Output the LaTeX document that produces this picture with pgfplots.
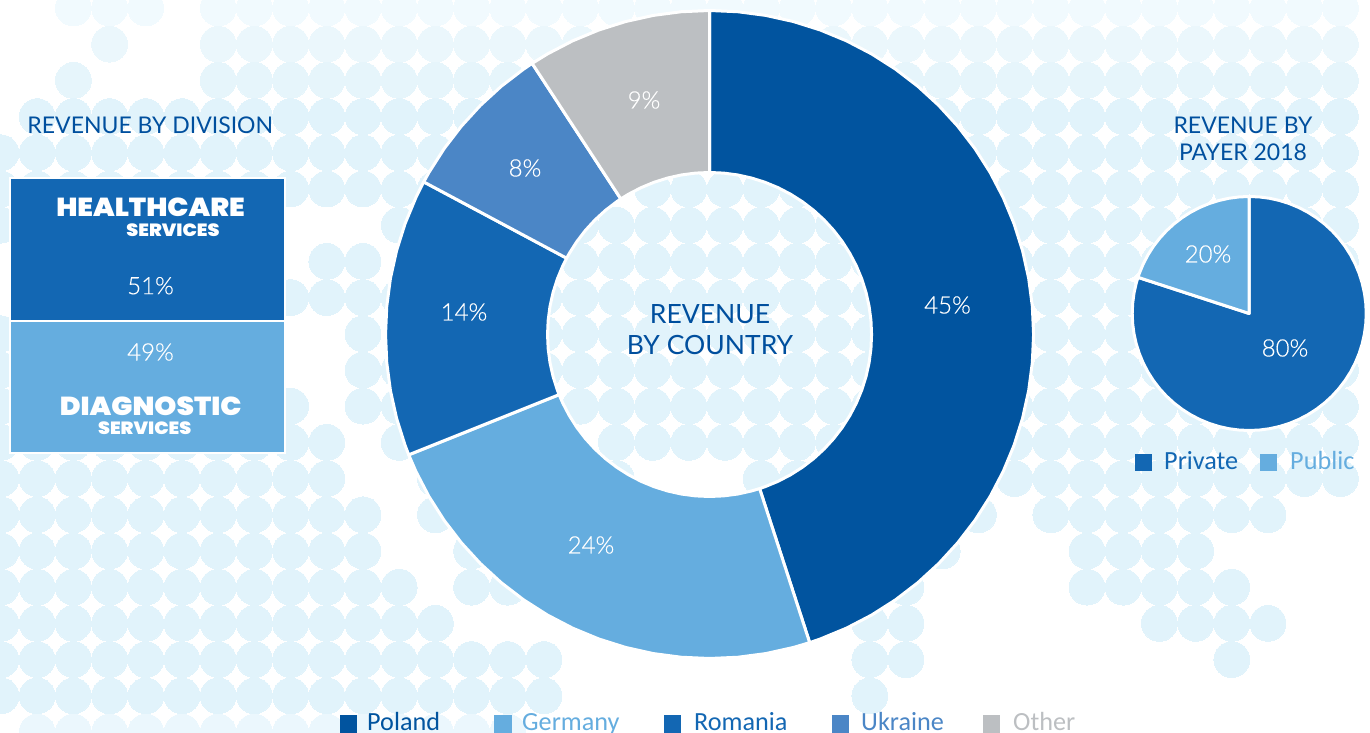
\documentclass[border=0pt]{standalone}
\usepackage{pgfplots}
\pgfplotsset{compat=1.18}
\usepackage{fontspec}
\setmainfont{Lato}
\newfontfamily\legfont{Carlito}
\newfontfamily\heavy{Poppins}[UprightFont=* Black,FakeStretch=1.08]
\newfontfamily\thin{Lato}[UprightFont=* Light,FakeBold=0.35]
\definecolor{cPoland}{HTML}{01549F}
\definecolor{cGermany}{HTML}{65ADDF}
\definecolor{cRomania}{HTML}{1367B3}
\definecolor{cUkraine}{HTML}{4B86C6}
\definecolor{cOther}{HTML}{BCBFC2}
\definecolor{cTitle}{HTML}{004F9E}
\definecolor{dot0}{HTML}{F1FAFE}
\definecolor{dot1}{HTML}{EBF7FC}
\definecolor{dot2}{HTML}{E6F5FB}
\definecolor{dot}{HTML}{E1F3FB}
\definecolor{dot20}{HTML}{EBF7FD}
\pgfplotsset{canvas/.style={scale only axis,width=1370pt,height=733pt,hide axis,at={(0,0)},anchor=south west},
 dots/.style={only marks,color=#1,mark=*,mark size=17.9pt,mark options={draw=#1,line width=0pt,fill=#1}},
 wedge/.style={data cs=polar,fill=#1,draw=white,line width=3pt,line join=round},
 sq/.style={fill=#1,draw=none}}
\newcommand{\fs}[1]{\fontsize{#1}{#1}\selectfont}
\begin{document}
\begin{tikzpicture}
% background dot map: (column,row) of a 36.2 px grid
\begin{axis}[canvas,xmin=-0.0276,xmax=37.818,ymin=-0.221,ymax=20.028,y dir=reverse]
\addplot[dots=dot0] coordinates {(2,0)(3,0)(4,0)(6,0)(7,0)(8,0)(9,0)(10,0)(11,0)(12,0)(13,0)(14,0)(15,0)(16,0)(17,0)(18,0)(19,0)(20,0)(21,0)(22,0)(23,0)(24,0)(25,0)(26,0)(27,0)(28,0)(29,0)(30,0)(31,0)(32,0)(33,0)(34,0)(35,0)(36,0)(37,0)(38,0)};
\addplot[dots=dot1] coordinates {(3,1)(6,1)(7,1)(8,1)(9,1)(10,1)(11,1)(12,1)(13,1)(14,1)(15,1)(16,1)(17,1)(18,1)(19,1)(20,1)(21,1)(22,1)(23,1)(24,1)(25,1)(26,1)(27,1)(28,1)(29,1)(30,1)(31,1)(32,1)(33,1)(34,1)(35,1)(36,1)(37,1)};
\addplot[dots=dot2] coordinates {(2,2)(6,2)(7,2)(8,2)(9,2)(10,2)(11,2)(12,2)(13,2)(14,2)(15,2)(16,2)(17,2)(18,2)(24,2)(25,2)(26,2)(27,2)(28,2)(29,2)(30,2)(31,2)(32,2)(33,2)(34,2)(35,2)(36,2)(37,2)};
\addplot[dots=dot] coordinates {(1,3)(2,3)(3,3)(4,3)(5,3)(6,3)(7,3)(8,3)(9,3)(10,3)(11,3)(12,3)(13,3)(14,3)(15,3)(16,3)(24,3)(25,3)(26,3)(27,3)(28,3)(29,3)(30,3)(31,3)(32,3)(33,3)(34,3)(35,3)(36,3)(37,3)(38,3)
(0,4)(1,4)(2,4)(3,4)(4,4)(5,4)(6,4)(7,4)(8,4)(9,4)(10,4)(11,4)(12,4)(13,4)(14,4)(26,4)(27,4)(28,4)(29,4)(30,4)(31,4)(32,4)(33,4)(34,4)(35,4)(36,4)(37,4)(38,4)
(0,5)(1,5)(2,5)(3,5)(4,5)(5,5)(6,5)(7,5)(8,5)(9,5)(10,5)(11,5)(12,5)(18,5)(19,5)(20,5)(21,5)(22,5)(26,5)(27,5)(28,5)(29,5)(30,5)(31,5)(32,5)(33,5)(34,5)(35,5)(36,5)(37,5)(38,5)
(0,6)(11,6)(16,6)(17,6)(18,6)(19,6)(20,6)(21,6)(22,6)(23,6)(27,6)(28,6)(29,6)(30,6)(31,6)(32,6)(33,6)(34,6)(35,6)(36,6)(37,6)(38,6)
(9,7)(10,7)(16,7)(17,7)(18,7)(19,7)(20,7)(21,7)(22,7)(23,7)(24,7)(27,7)(28,7)(29,7)(30,7)(31,7)(32,7)(33,7)(34,7)(35,7)(36,7)(37,7)(38,7)
(8,8)(9,8)(10,8)(11,8)(15,8)(16,8)(17,8)(18,8)(19,8)(20,8)(21,8)(22,8)(23,8)(24,8)(28,8)(29,8)(30,8)(31,8)(32,8)(33,8)(34,8)(35,8)(36,8)(37,8)(38,8)
(0,9)(10,9)(15,9)(16,9)(17,9)(18,9)(19,9)(20,9)(21,9)(22,9)(23,9)(24,9)(28,9)(29,9)(30,9)(31,9)(32,9)(33,9)(34,9)(35,9)(36,9)(37,9)
(0,10)(10,10)(11,10)(15,10)(16,10)(17,10)(18,10)(19,10)(20,10)(21,10)(22,10)(23,10)(24,10)(28,10)(29,10)(30,10)(31,10)(32,10)(33,10)(34,10)(35,10)(36,10)(37,10)
(0,11)(8,11)(10,11)(11,11)(16,11)(17,11)(18,11)(19,11)(20,11)(21,11)(22,11)(23,11)(24,11)(28,11)(29,11)(30,11)(31,11)(32,11)(33,11)(34,11)(35,11)(36,11)(37,11)
(0,12)(1,12)(2,12)(3,12)(4,12)(5,12)(6,12)(7,12)(8,12)(9,12)(11,12)(17,12)(18,12)(19,12)(20,12)(21,12)(22,12)(23,12)(28,12)(29,12)(30,12)(31,12)(32,12)(33,12)(34,12)(35,12)(36,12)(37,12)
(0,13)(1,13)(2,13)(3,13)(4,13)(5,13)(6,13)(7,13)(8,13)(9,13)(12,13)(17,13)(21,13)(22,13)(28,13)(29,13)(30,13)(31,13)(32,13)(33,13)(34,13)(35,13)(36,13)(37,13)
(0,14)(1,14)(2,14)(3,14)(4,14)(5,14)(6,14)(7,14)(8,14)(9,14)(10,14)(12,14)(27,14)(29,14)(30,14)(31,14)(32,14)(33,14)(34,14)(35,14)
(0,15)(1,15)(2,15)(3,15)(4,15)(5,15)(6,15)(7,15)(8,15)(9,15)(10,15)(13,15)(26,15)(30,15)(31,15)(32,15)(33,15)(38,15)
(0,16)(1,16)(2,16)(3,16)(4,16)(5,16)(6,16)(7,16)(8,16)(9,16)(10,16)(11,16)(13,16)(14,16)(25,16)(30,16)(31,16)(32,16)(33,16)(34,16)(38,16)
(0,17)(1,17)(2,17)(3,17)(4,17)(5,17)(6,17)(7,17)(8,17)(9,17)(10,17)(11,17)(12,17)(24,17)(25,17)(32,17)(33,17)(34,17)(35,17)
(0,18)(1,18)(2,18)(3,18)(4,18)(5,18)(6,18)(7,18)(8,18)(9,18)(10,18)(11,18)(12,18)(13,18)(14,18)(15,18)(24,18)(25,18)(34,18)
(0,19)(1,19)(2,19)(3,19)(4,19)(5,19)(6,19)(7,19)(8,19)(9,19)(10,19)(11,19)(12,19)(13,19)(14,19)(15,19)(24,19)};
\addplot[dots=dot20] coordinates {(1,20)(2,20)(3,20)(4,20)(5,20)(6,20)(7,20)(8,20)(9,20)(10,20)(11,20)(12,20)(13,20)(14,20)(38,20)};
\end{axis}
% revenue by country: Poland 45, Germany 24, Romania 14, Ukraine 8, Other 9 (angle, radius)
\begin{axis}[canvas,xmin=-709.5,xmax=660.5,ymin=-398.5,ymax=334.5]
\addplot[wedge=cPoland] coordinates {(90,324)(85,324)(80,324)(75,324)(70,324)(65,324)(60,324)(55,324)(50,324)(45,324)(40,324)(35,324)(30,324)(25,324)(20,324)(15,324)(10,324)(5,324)(0,324)(-5,324)(-10,324)(-15,324)(-20,324)(-25,324)(-30,324)(-35,324)(-40,324)(-45,324)(-50,324)(-55,324)(-60,324)(-65,324)(-70,324)(-72,324)
(-72,162)(-70,162)(-65,162)(-60,162)(-55,162)(-50,162)(-45,162)(-40,162)(-35,162)(-30,162)(-25,162)(-20,162)(-15,162)(-10,162)(-5,162)(0,162)(5,162)(10,162)(15,162)(20,162)(25,162)(30,162)(35,162)(40,162)(45,162)(50,162)(55,162)(60,162)(65,162)(70,162)(75,162)(80,162)(85,162)(90,162)} --cycle;
\addplot[wedge=cGermany] coordinates {(-72,324)(-75,324)(-80,324)(-85,324)(-90,324)(-95,324)(-100,324)(-105,324)(-110,324)(-115,324)(-120,324)(-125,324)(-130,324)(-135,324)(-140,324)(-145,324)(-150,324)(-155,324)(-158.2,324)
(-158.2,162)(-155,162)(-150,162)(-145,162)(-140,162)(-135,162)(-130,162)(-125,162)(-120,162)(-115,162)(-110,162)(-105,162)(-100,162)(-95,162)(-90,162)(-85,162)(-80,162)(-75,162)(-72,162)} --cycle;
\addplot[wedge=cRomania] coordinates {(-158.2,324)(-160,324)(-165,324)(-170,324)(-175,324)(-180,324)(-185,324)(-190,324)(-195,324)(-200,324)(-205,324)(-208.1,324)
(-208.1,162)(-205,162)(-200,162)(-195,162)(-190,162)(-185,162)(-180,162)(-175,162)(-170,162)(-165,162)(-160,162)(-158.2,162)} --cycle;
\addplot[wedge=cUkraine] coordinates {(-208.1,324)(-210,324)(-215,324)(-220,324)(-225,324)(-230,324)(-235,324)(-236.8,324)
(-236.8,162)(-235,162)(-230,162)(-225,162)(-220,162)(-215,162)(-210,162)(-208.1,162)} --cycle;
\addplot[wedge=cOther] coordinates {(-236.8,324)(-240,324)(-245,324)(-250,324)(-255,324)(-260,324)(-265,324)(-270,324)
(-270,162)(-265,162)(-260,162)(-255,162)(-250,162)(-245,162)(-240,162)(-236.8,162)} --cycle;
\end{axis}
% revenue by payer: Private 80, Public 20
\begin{axis}[canvas,xmin=-1249.2,xmax=120.8,ymin=-419.5,ymax=313.5]
\addplot[wedge=cRomania] coordinates {(0,0)(90,117)(85,117)(80,117)(75,117)(70,117)(65,117)(60,117)(55,117)(50,117)(45,117)(40,117)(35,117)(30,117)(25,117)(20,117)(15,117)(10,117)(5,117)(0,117)(-5,117)(-10,117)(-15,117)(-20,117)(-25,117)(-30,117)(-35,117)(-40,117)(-45,117)(-50,117)(-55,117)(-60,117)(-65,117)(-70,117)(-75,117)(-80,117)(-85,117)(-90,117)(-95,117)(-100,117)(-105,117)(-110,117)(-115,117)(-120,117)(-125,117)(-130,117)(-135,117)(-140,117)(-145,117)(-150,117)(-155,117)(-160,117)(-165,117)(-170,117)(-175,117)(-180,117)(-185,117)(-190,117)(-195,117)(-198,117)} --cycle;
\addplot[wedge=cGermany] coordinates {(0,0)(162,117)(160,117)(155,117)(150,117)(145,117)(140,117)(135,117)(130,117)(125,117)(120,117)(115,117)(110,117)(105,117)(100,117)(95,117)(90,117)} --cycle;
\end{axis}
% boxes, legends and texts in pixel coordinates
\begin{axis}[canvas,xmin=0,xmax=1370,ymin=0,ymax=733,y dir=reverse]
\addplot[fill=cRomania,draw=white,line width=2.5pt] coordinates {(9.75,177.75)(284.75,177.75)(284.75,320.75)(9.75,320.75)} --cycle;
\addplot[fill=cGermany,draw=white,line width=2.5pt] coordinates {(9.75,320.75)(284.75,320.75)(284.75,453)(9.75,453)} --cycle;
\addplot[sq=cPoland] coordinates {(340,715)(357,715)(357,733)(340,733)} --cycle;
\addplot[sq=cGermany] coordinates {(494,715)(512,715)(512,733)(494,733)} --cycle;
\addplot[sq=cRomania] coordinates {(664,715)(681,715)(681,733)(664,733)} --cycle;
\addplot[sq=cUkraine] coordinates {(832,715)(849,715)(849,733)(832,733)} --cycle;
\addplot[sq=cOther] coordinates {(983,715)(1000,715)(1000,733)(983,733)} --cycle;
\addplot[sq=cRomania] coordinates {(1135,454)(1152,454)(1152,471)(1135,471)} --cycle;
\addplot[sq=cGermany] coordinates {(1260,454)(1277,454)(1277,471)(1260,471)} --cycle;
\tikzset{lbl/.style={text=white,inner sep=0pt,anchor=center,font=\thin\fs{24}},
 ttl/.style={text=cTitle,inner sep=0pt,anchor=center},
 leg/.style={inner sep=0pt,anchor=base west,font=\legfont\fs{26.2}}}
\node[ttl,font=\fs{23}] at (axis cs:150.3,125.5) {REVENUE BY DIVISION};
\node[ttl,font=\fs{23}] at (axis cs:1243,125.5) {REVENUE BY};
\node[ttl,font=\fs{23}] at (axis cs:1243,152.3) {PAYER 2018};
\node[ttl,font=\fs{26.5}] at (axis cs:710,314) {REVENUE};
\node[ttl,font=\fs{26.5}] at (axis cs:710,345) {BY COUNTRY};
\node[lbl] at (axis cs:947.5,305) {45\%};
\node[lbl] at (axis cs:591,545) {24\%};
\node[lbl] at (axis cs:464,312) {14\%};
\node[lbl] at (axis cs:525,168) {8\%};
\node[lbl] at (axis cs:644,100) {9\%};
\node[lbl] at (axis cs:1285,348) {80\%};
\node[lbl] at (axis cs:1208,254) {20\%};
\node[lbl] at (axis cs:150.5,285.7) {51\%};
\node[lbl] at (axis cs:150.5,352) {49\%};
\node[text=white,inner sep=0pt,font=\heavy\fs{26}] at (axis cs:150.5,207) {HEALTHCARE};
\node[text=white,inner sep=0pt,font=\heavy\fs{17.7}] at (axis cs:173,230) {SERVICES};
\node[text=white,inner sep=0pt,font=\heavy\fs{26}] at (axis cs:150.7,406.7) {DIAGNOSTIC};
\node[text=white,inner sep=0pt,font=\heavy\fs{17.7}] at (axis cs:144.7,428) {SERVICES};
\node[leg,text=cPoland] at (axis cs:367,730) {Poland};
\node[leg,text=cGermany] at (axis cs:522,730) {Germany};
\node[leg,text=cRomania] at (axis cs:694,730) {Romania};
\node[leg,text=cUkraine] at (axis cs:861,730) {Ukraine};
\node[leg,text=cOther] at (axis cs:1013,730) {Other};
\node[leg,text=cRomania] at (axis cs:1164,469) {Private};
\node[leg,text=cGermany] at (axis cs:1290,469) {Public};
\end{axis}
\pgfresetboundingbox
\useasboundingbox (0,0) rectangle (1370pt,733pt);
\end{tikzpicture}
\end{document}
